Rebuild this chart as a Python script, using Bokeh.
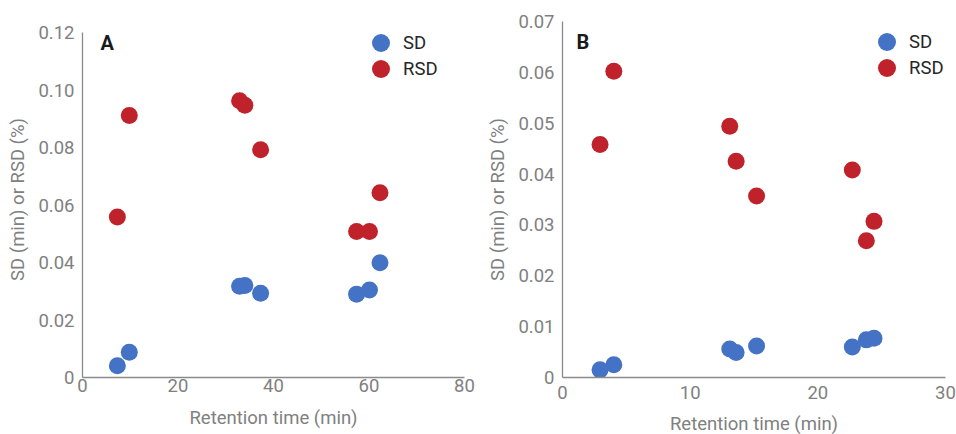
from bokeh.plotting import figure
from bokeh.layouts import row
from bokeh.models import ColumnDataSource, Range1d, FixedTicker, Legend, LegendItem, Label
from bokeh.embed import file_html
from bokeh.resources import INLINE

# ---- data ----
a_time = [7.3, 9.8, 32.9, 34.0, 37.3, 57.4, 60.1, 62.3]
a_sd = [0.0041, 0.0088, 0.0317, 0.0320, 0.0293, 0.0290, 0.0304, 0.0399]
a_rsd = [0.0558, 0.0911, 0.0963, 0.0947, 0.0792, 0.0508, 0.0508, 0.0643]

b_time = [2.94, 4.02, 13.1, 13.6, 15.2, 22.7, 23.8, 24.4]
b_sd = [0.0015, 0.0025, 0.0056, 0.0049, 0.0062, 0.0060, 0.0074, 0.0077]
b_rsd = [0.0458, 0.0602, 0.0494, 0.0425, 0.0357, 0.0408, 0.0269, 0.0307]

a_xticks = [0, 20, 40, 60, 80]
a_yticks = [0, 0.02, 0.04, 0.06, 0.08, 0.10, 0.12]
b_xticks = [0, 10, 20, 30]
b_yticks = [0, 0.01, 0.02, 0.03, 0.04, 0.05, 0.06, 0.07]

series_names = ["SD", "RSD"]
x_title = "Retention time (min)"
y_title = "SD (min) or RSD (%)"

BLUE = "#4472C4"
RED = "#C0222B"
GRAY = "#808080"
AXIS = "#8a8a8a"
FONT = "Roboto"
FS = "18.5px"
FRAME_H = 356


def make_panel(t, sd, rsd, xmax, ymax, yspan, xticks, yticks, letter, letter_pos,
               left, fw, right, tick_std, title_std, leg_sd, leg_rsd):
    p = figure(frame_width=fw, frame_height=FRAME_H,
               min_border_left=left, min_border_right=right,
               min_border_top=21, min_border_bottom=57,
               x_range=Range1d(0, xmax), y_range=Range1d(0, yspan),
               output_backend="svg", toolbar_location=None, tools="")
    p.outline_line_color = None
    p.xgrid.visible = False
    p.ygrid.visible = False
    p.background_fill_color = "white"
    p.border_fill_color = "white"

    src = ColumnDataSource(dict(t=t, sd=sd, rsd=rsd))
    r_sd = p.scatter("t", "sd", source=src, size=17, color=BLUE, line_color=None)
    r_rsd = p.scatter("t", "rsd", source=src, size=17, color=RED, line_color=None)

    xa, ya = p.xaxis[0], p.yaxis[0]
    xa.ticker = FixedTicker(ticks=xticks)
    ya.ticker = FixedTicker(ticks=yticks)
    xa.major_label_overrides = {tk: f"{tk:g}" for tk in xticks}
    ya.major_label_overrides = {tk: ("0" if tk == 0 else f"{tk:.2f}") for tk in yticks}
    ya.bounds = (0, ymax)
    xa.bounds = (0, xmax)
    for ax in (xa, ya):
        ax.axis_line_color = AXIS
        ax.axis_line_width = 1.3
        ax.major_tick_line_color = None
        ax.minor_tick_line_color = None
        ax.major_tick_out = 0
        ax.major_tick_in = 0
        ax.major_label_text_font = FONT
        ax.major_label_text_font_size = FS
        ax.major_label_text_color = GRAY
        ax.axis_label_text_font = FONT
        ax.axis_label_text_font_size = FS
        ax.axis_label_text_font_style = "normal"
        ax.axis_label_text_color = GRAY
    xa.major_label_standoff = tick_std[0]
    ya.major_label_standoff = tick_std[1]
    xa.axis_label = x_title
    ya.axis_label = y_title
    xa.axis_label_standoff = title_std[0]
    ya.axis_label_standoff = title_std[1]

    for name, rend, loc in ((series_names[0], r_sd, leg_sd), (series_names[1], r_rsd, leg_rsd)):
        legend = Legend(items=[LegendItem(label=name, renderers=[rend])],
                        location=loc, orientation="vertical",
                        glyph_width=45, glyph_height=45, spacing=0,
                        label_standoff=-9, padding=0, margin=0,
                        border_line_color=None, background_fill_alpha=0,
                        label_text_font=FONT, label_text_font_size=FS,
                        label_text_color="#262626")
        p.add_layout(legend)

    p.add_layout(Label(x=letter_pos[0], y=letter_pos[1], text=letter,
                       text_font=FONT, text_font_style="bold",
                       text_font_size="20px", text_color="#1a1a1a",
                       text_align="left", text_baseline="middle"))
    return p


pA = make_panel(a_time, a_sd, a_rsd, 80, 0.12, 0.12 * FRAME_H / 345, a_xticks, a_yticks,
                "A", (3.77, 0.1162), left=82, fw=382, right=16,
                tick_std=(1, 8), title_std=(12, 6), leg_sd=(276, 312), leg_rsd=(276, 286))
pB = make_panel(b_time, b_sd, b_rsd, 30, 0.07, 0.07, b_xticks, b_yticks,
                "B", (1.1, 0.066), left=82, fw=383, right=11,
                tick_std=(8, 8), title_std=(11, 6), leg_sd=(302, 313), leg_rsd=(302, 287))

layout = row(pA, pB)
open("out.html", "w").write(file_html(layout, INLINE))
